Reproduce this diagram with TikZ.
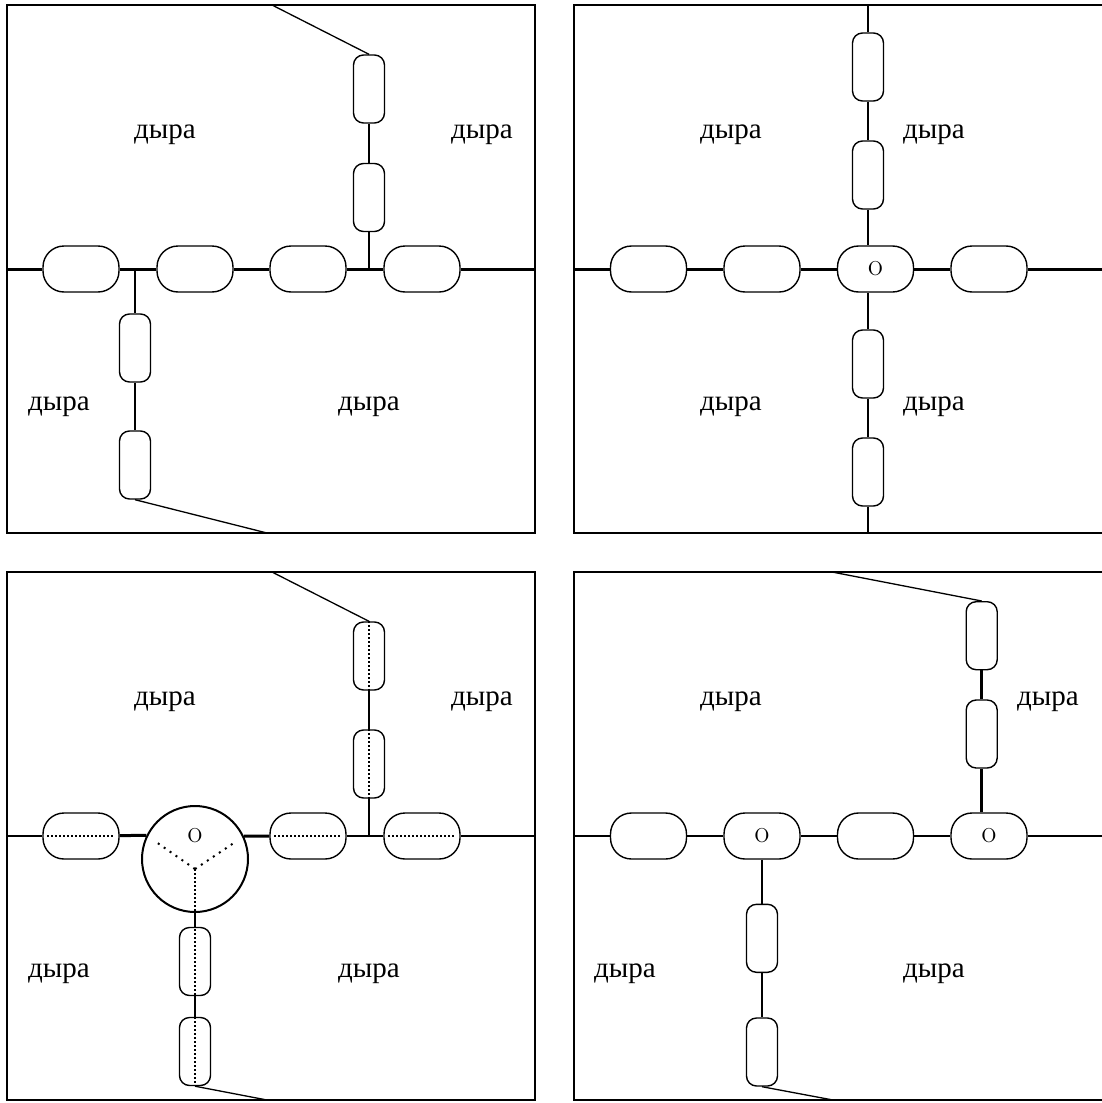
\documentclass[tikz,border=0pt]{standalone}
\usepackage{fontspec}
\newfontfamily\cyrfont{Liberation Serif}
\begin{document}
\begin{tikzpicture}[x=0.5pt,y=-0.5pt,
  frame/.style={line width=1pt},
  hcap/.style={draw,line width=0.7pt,rounded corners=10.5pt,minimum width=38pt,minimum height=23pt,inner sep=0pt,fill=white,font=\fontsize{16}{18}\selectfont},
  vcap/.style={draw,line width=0.7pt,rounded corners=5pt,minimum width=15.5pt,minimum height=34pt,inner sep=0pt,fill=white},
  bigring/.style={draw,circle,line width=1pt,minimum size=53pt,inner sep=0pt},
  wire/.style={line width=1.1pt},
  mainwire/.style={line width=1.5pt},
  midwire/.style={line width=1pt},
  thinwire/.style={line width=0.65pt},
  dots/.style={line width=1pt,dash pattern=on 1pt off 1pt},
  sparsedots/.style={line width=1pt,dash pattern=on 1pt off 2.6pt,shorten >=6pt},
  hole/.style={font=\cyrfont\fontsize{14.5}{16}\selectfont,anchor=base,inner sep=0pt},
  otext/.style={font=\fontsize{16}{18}\selectfont,anchor=base,inner sep=0pt}
]
\useasboundingbox (0,0) rectangle (1102,1103);

% ---------- top left: chain with two side branches ----------
\draw[frame] (7,5) rectangle (535,533);
\node[hcap] (a1) at (81,269) {};
\node[hcap] (a2) at (195,269) {};
\node[hcap] (a3) at (308,269) {};
\node[hcap] (a4) at (422,269) {};
\node[vcap] (ad1) at (135,348) {};
\node[vcap] (ad2) at (135,465) {};
\node[vcap] (au1) at (369,197.5) {};
\node[vcap] (au2) at (369,89) {};
\coordinate (aL) at (7,269);
\coordinate (aR) at (535,269);
\coordinate (aj1) at (135,269);
\coordinate (aj2) at (369,269);
\coordinate (aT) at (272,5);
\coordinate (aB) at (267,533);
\foreach \p/\q in {aL/a1,a1/a2,a2/a3,a3/a4,a4/aR} \draw[mainwire] (\p) -- (\q);
\foreach \p/\q in {aj1/ad1,ad1/ad2,aj2/au1,au1/au2} \draw[wire] (\p) -- (\q);
\draw[thinwire] (ad2.south) -- (aB);
\draw[thinwire] (au2.north) -- (aT);
\node[hole] (ah1) at (165,138) {дыра};
\node[hole] (ah2) at (482,138) {дыра};
\node[hole] (ah3) at (59,410) {дыра};
\node[hole] (ah4) at (369,410) {дыра};

% ---------- top right: cross through one junction ----------
\draw[frame] (574,5) rectangle (1104.5,533);
\node[hcap] (b1) at (648.5,269) {};
\node[hcap] (b2) at (762,269) {};
\node[hcap] (bo) at (875.5,269) {o};
\node[hcap] (b4) at (989,269) {};
\node[vcap] (bu2) at (868,67) {};
\node[vcap] (bu1) at (868,175) {};
\node[vcap] (bd1) at (868,364) {};
\node[vcap] (bd2) at (868,472) {};
\coordinate (bL) at (574,269);
\coordinate (bR) at (1104.5,269);
\coordinate (bT) at (868,5);
\coordinate (bB) at (868,533);
\foreach \p/\q in {bL/b1,b1/b2,b2/bo,bo/b4,b4/bR} \draw[mainwire] (\p) -- (\q);
\foreach \p/\q in {bT/bu2,bu2/bu1,bd1/bd2,bd2/bB} \draw[wire] (\p) -- (\q);
\draw[wire] (bu1.south) -- (bu1.south |- bo.north);
\draw[wire] (bd1.north |- bo.south) -- (bd1.north);
\node[hole] (bh1) at (731,138) {дыра};
\node[hole] (bh2) at (934,138) {дыра};
\node[hole] (bh3) at (731,410) {дыра};
\node[hole] (bh4) at (934,410) {дыра};

% ---------- bottom left: junction blown up into a disc ----------
\draw[frame] (7,572) rectangle (535,1100);
\node[hcap] (c1) at (81,836) {};
\node[bigring] (cc) at (195,859) {};
\node[otext] (co) at (195,842) {o};
\node[hcap] (c3) at (308,836) {};
\node[hcap] (c4) at (422,836) {};
\node[vcap] (cu1) at (369,764) {};
\node[vcap] (cu2) at (369,656) {};
\node[vcap] (cd1) at (195,961.5) {};
\node[vcap] (cd2) at (195,1051.5) {};
\coordinate (cL) at (7,836);
\coordinate (cR) at (535,836);
\coordinate (cj) at (369,836);
\coordinate (cT) at (272,572);
\coordinate (cB) at (267,1100);
\coordinate (cy) at (195,869);
\draw[midwire] (cL) -- (c1);
\draw[mainwire] (c1) -- (cc.154.3);
\draw[mainwire] (cc.25.7) -- (c3);
\foreach \p/\q in {c3/c4,c4/cR,cj/cu1,cu1/cu2,cd1/cd2} \draw[midwire] (\p) -- (\q);
\draw[midwire] (cc.south) -- (cd1);
\draw[thinwire] (cu2.north) -- (cT);
\draw[thinwire] (cd2.south) -- (cB);
\foreach \n in {c1,c3,c4} \draw[dots] ([xshift=2.5pt]\n.west) -- ([xshift=-2.5pt]\n.east);
\foreach \n in {cu1,cu2} \draw[dots] (\n.north) -- (\n.south);
\draw[dots] (cy) -- (cd2.south);
\draw[sparsedots] (cy) -- (cc.154.3);
\draw[sparsedots] (cy) -- (cc.25.7);
\node[hole] (ch1) at (165,705) {дыра};
\node[hole] (ch2) at (482,705) {дыра};
\node[hole] (ch3) at (59,977) {дыра};
\node[hole] (ch4) at (369,977) {дыра};

% ---------- bottom right: two separate junctions ----------
\draw[frame] (574,572) rectangle (1104.5,1100);
\node[hcap] (d1) at (648.5,836) {};
\node[hcap] (do1) at (762,836) {o};
\node[hcap] (d3) at (875.5,836) {};
\node[hcap] (do2) at (989,836) {o};
\node[vcap] (du2) at (981.7,635.7) {};
\node[vcap] (du1) at (981.7,734) {};
\node[vcap] (dd1) at (762,938.3) {};
\node[vcap] (dd2) at (762,1052) {};
\coordinate (dL) at (574,836);
\coordinate (dR) at (1104.5,836);
\coordinate (dT) at (832,572);
\coordinate (dB) at (833,1100);
\foreach \p/\q in {dL/d1,d1/do1,do1/d3,d3/do2,do2/dR} \draw[midwire] (\p) -- (\q);
\draw[mainwire] (du1.south |- do2.north) -- (du1.south);
\draw[mainwire] (du1) -- (du2);
\draw[thinwire] (du2.north) -- (dT);
\foreach \p/\q in {do1/dd1,dd1/dd2} \draw[midwire] (\p) -- (\q);
\draw[thinwire] (dd2.south) -- (dB);
\node[hole] (dh1) at (731,705) {дыра};
\node[hole] (dh2) at (1048,705) {дыра};
\node[hole] (dh3) at (625,977) {дыра};
\node[hole] (dh4) at (934,977) {дыра};
\end{tikzpicture}
\end{document}
